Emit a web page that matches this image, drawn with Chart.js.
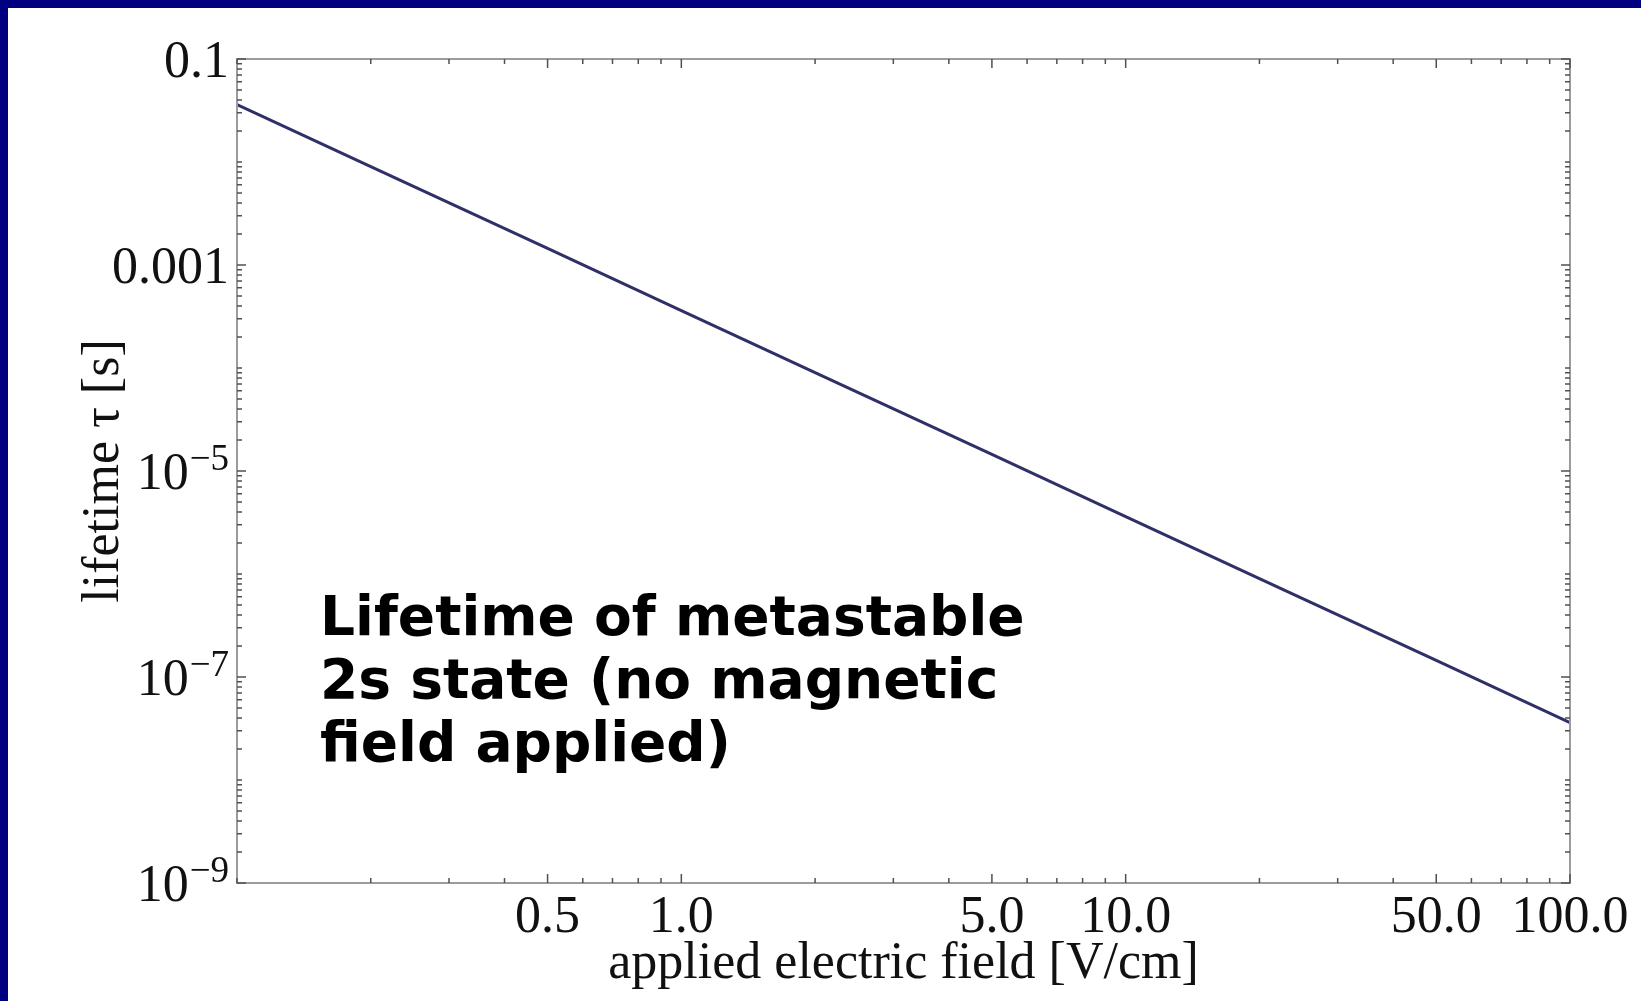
<!DOCTYPE html>
<html>
<head>
<meta charset="utf-8">
<title>Lifetime of metastable 2s state</title>
<script src="https://cdn.jsdelivr.net/npm/chart.js@4.4.1/dist/chart.umd.min.js"></script>
<style>
  html, body { margin: 0; padding: 0; background: #000080; overflow: hidden; }
  #frame { position: absolute; left: 8px; top: 8px; width: 1633px; height: 993px; background: #fff; }
  canvas { display: block; }
</style>
</head>
<body>
<div id="frame"><canvas id="lifetimeChart" width="1633" height="993"></canvas></div>
<script>
// applied field [V/cm] vs lifetime tau [s]
const fieldValues = [0.1, 0.2, 0.5, 1, 2, 5, 10, 20, 50, 100];
const lifetimeValues = [3.6e-2, 9.0e-3, 1.45e-3, 3.6e-4, 9.0e-5, 1.45e-5, 3.6e-6, 9.0e-7, 1.45e-7, 3.6e-8];

const xTickValues = [0.5, 1, 5, 10, 50, 100];
const xTickLabels = ['0.5', '1.0', '5.0', '10.0', '50.0', '100.0'];

const yTickValues = [1e-1, 1e-3, 1e-5, 1e-7, 1e-9];
const yTickBases = ['0.1', '0.001', '10', '10', '10'];
const yTickExponents = ['', '', '\u22125', '\u22127', '\u22129'];

const noteLines = ['Lifetime of metastable', '2s state (no magnetic', 'field applied)'];

const tickMantissas = [1, 2, 3, 4, 5, 6, 7, 8, 9];

function logTicks(fromExp, toExp) {
    const out = [];
    for (let e = fromExp; e <= toExp; e++) {
        tickMantissas.forEach(m => out.push(m * Math.pow(10, e)));
    }
    out.push(Math.pow(10, toExp + 1));
    return out;
}

const xFrameTicks = logTicks(-1, 1);
const yFrameTicks = logTicks(-9, -2);

function isIn(list, v) {
    return list.some(t => Math.abs(Math.log10(t) - Math.log10(v)) < 1e-6);
}

const serif = '"Liberation Serif", "Times New Roman", serif';

const frameTicks = {
    id: 'frameTicks',
    afterDraw(chart) {
        const { ctx, chartArea: a, scales: { x, y } } = chart;
        ctx.save();

        // frame
        ctx.strokeStyle = '#9c9c9c';
        ctx.lineWidth = 2;
        ctx.strokeRect(a.left, a.top, a.right - a.left, a.bottom - a.top);

        // inward tick marks on all four sides
        ctx.strokeStyle = '#505050';
        ctx.lineWidth = 1.5;
        ctx.beginPath();
        xFrameTicks.forEach(v => {
            const len = isIn(xTickValues, v) ? 9 : 5;
            const px = x.getPixelForValue(v);
            ctx.moveTo(px, a.bottom); ctx.lineTo(px, a.bottom - len);
            ctx.moveTo(px, a.top); ctx.lineTo(px, a.top + len);
        });
        yFrameTicks.forEach(v => {
            const len = isIn(yTickValues, v) ? 9 : 5;
            const py = y.getPixelForValue(v);
            ctx.moveTo(a.left, py); ctx.lineTo(a.left + len, py);
            ctx.moveTo(a.right, py); ctx.lineTo(a.right - len, py);
        });
        ctx.stroke();

        // y tick labels with superscripts
        ctx.fillStyle = '#111';
        ctx.textAlign = 'right';
        ctx.textBaseline = 'alphabetic';
        const xr = a.left - 8;
        yTickValues.forEach((v, i) => {
            const py = y.getPixelForValue(v);
            let w = 0;
            if (yTickExponents[i]) {
                ctx.font = '37px ' + serif;
                w = ctx.measureText(yTickExponents[i]).width + 1;
                ctx.fillText(yTickExponents[i], xr, py - 1);
            }
            ctx.font = '52px ' + serif;
            ctx.fillText(yTickBases[i], xr - w, py + 18);
        });

        // annotation
        ctx.textAlign = 'left';
        ctx.font = 'bold 55px "DejaVu Sans", sans-serif';
        ctx.fillStyle = '#000';
        noteLines.forEach((line, i) => {
            ctx.fillText(line, a.left + 83, a.top + 576 + i * 63);
        });

        ctx.restore();
    }
};

const ctx = document.getElementById('lifetimeChart');

new Chart(ctx, {
    type: 'line',
    data: {
        datasets: [{
            label: 'lifetime',
            data: fieldValues.map((f, i) => ({ x: f, y: lifetimeValues[i] })),
            borderColor: '#303068',
            borderWidth: 3,
            pointRadius: 0,
            tension: 0,
            fill: false
        }]
    },
    options: {
        responsive: false,
        animation: false,
        layout: { padding: { top: 51, right: 71, left: 0, bottom: 0 } },
        plugins: {
            legend: { display: false },
            tooltip: { enabled: false }
        },
        scales: {
            x: {
                type: 'logarithmic',
                min: 0.1,
                max: 100,
                afterBuildTicks: s => { s.ticks = xTickValues.map(v => ({ value: v })); },
                afterFit: s => { s.height = 118; },
                grid: { display: false, drawTicks: false },
                border: { display: false },
                ticks: {
                    autoSkip: false,
                    maxRotation: 0,
                    padding: 4,
                    color: '#111',
                    font: { family: serif, size: 52 },
                    callback: (val, i) => xTickLabels[i]
                },
                title: {
                    display: true,
                    text: 'applied electric field [V/cm]',
                    color: '#111',
                    font: { family: serif, size: 52 },
                    padding: { top: 0, bottom: 5 }
                }
            },
            y: {
                type: 'logarithmic',
                min: 1e-9,
                max: 0.1,
                afterFit: s => { s.width = 229; },
                grid: { display: false, drawTicks: false },
                border: { display: false },
                ticks: { display: false },
                title: {
                    display: true,
                    text: 'lifetime \u03c4 [s]',
                    color: '#111',
                    font: { family: serif, size: 52 },
                    padding: { top: 65, bottom: 0 }
                }
            }
        }
    },
    plugins: [frameTicks]
});
</script>
</body>
</html>
